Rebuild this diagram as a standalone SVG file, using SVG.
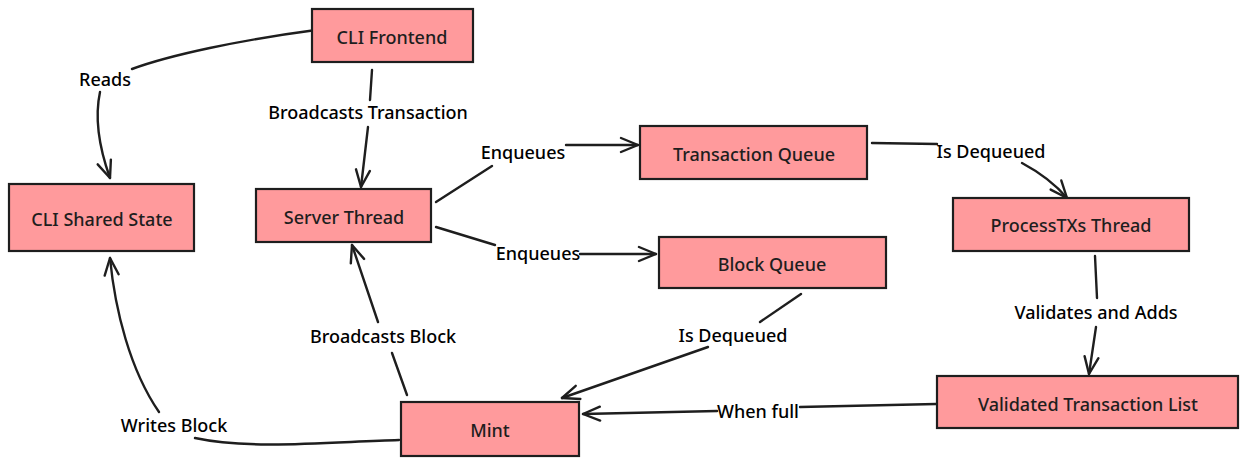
<svg xmlns="http://www.w3.org/2000/svg" width="1248" height="465" viewBox="0 0 1248 465">
<style>
.box{fill:#ff9a9c;stroke:#1e1e1e;stroke-width:2.2}
.t{font-family:"Noto Sans",sans-serif;font-size:18px;font-weight:500;fill:#1e1e1e;text-anchor:middle;dominant-baseline:central}
.l{font-family:"Noto Sans",sans-serif;font-size:18px;font-weight:500;fill:#000;text-anchor:middle;dominant-baseline:central}
.c{fill:none;stroke:#1e1e1e;stroke-width:2.4;stroke-linecap:round}
</style>
<defs>
<marker id="ah" markerUnits="userSpaceOnUse" markerWidth="40" markerHeight="40" refX="0" refY="0" viewBox="-20 -20 40 40" orient="auto" overflow="visible">
<path d="M -17 -7 L 0 0 L -17 7" fill="none" stroke="#1e1e1e" stroke-width="2.4" stroke-linecap="round" stroke-linejoin="round"/>
</marker>
</defs>
<rect width="1248" height="465" fill="#fff"/>
<g id="connectors">
<path class="c" d="M 316 30 C 240 40 170 55 132 69"/>
<path class="c" d="M 100 92 C 94 120 100 150 110 178" marker-end="url(#ah)"/>
<text class="l" x="105" y="79">Reads</text>
<path class="c" d="M 372 70 L 370 100"/>
<path class="c" d="M 368 127 L 361 187" marker-end="url(#ah)"/>
<text class="l" x="368" y="112">Broadcasts Transaction</text>
<path class="c" d="M 436 202 L 492 166"/>
<path class="c" d="M 566 145 L 638 145" marker-end="url(#ah)"/>
<text class="l" x="523" y="152">Enqueues</text>
<path class="c" d="M 436 227 L 495 245"/>
<path class="c" d="M 580 254 L 656 254" marker-end="url(#ah)"/>
<text class="l" x="538" y="253">Enqueues</text>
<path class="c" d="M 872 143 L 937 144"/>
<path class="c" d="M 1022 163 Q 1050 178 1067 198" marker-end="url(#ah)"/>
<text class="l" x="991" y="151">Is Dequeued</text>
<path class="c" d="M 1095 256 L 1097 298"/>
<path class="c" d="M 1096 327 L 1089 374" marker-end="url(#ah)"/>
<text class="l" x="1096" y="312">Validates and Adds</text>
<path class="c" d="M 936 404 L 800 407"/>
<path class="c" d="M 717 411 L 583 414" marker-end="url(#ah)"/>
<text class="l" x="758" y="411">When full</text>
<path class="c" d="M 801 294 L 760 322"/>
<path class="c" d="M 708 347 L 562 398" marker-end="url(#ah)"/>
<text class="l" x="733" y="335">Is Dequeued</text>
<path class="c" d="M 407 395 L 392 353"/>
<path class="c" d="M 378 322 L 352 245" marker-end="url(#ah)"/>
<text class="l" x="383" y="336">Broadcasts Block</text>
<path class="c" d="M 399 440 C 330 442 250 450 195 438"/>
<path class="c" d="M 159 412 C 130 370 115 310 110 258" marker-end="url(#ah)"/>
<text class="l" x="174" y="425">Writes Block</text>
</g>
<g id="cli-frontend"><rect class="box" x="312" y="9" width="161" height="53"/><text class="t" x="392" y="37">CLI Frontend</text></g>
<g id="cli-shared-state"><rect class="box" x="9" y="184" width="185" height="67"/><text class="t" x="102" y="219">CLI Shared State</text></g>
<g id="server-thread"><rect class="box" x="256" y="189" width="175" height="53"/><text class="t" x="344" y="217">Server Thread</text></g>
<g id="transaction-queue"><rect class="box" x="640" y="126" width="227" height="53"/><text class="t" x="754" y="154">Transaction Queue</text></g>
<g id="block-queue"><rect class="box" x="659" y="237" width="227" height="51"/><text class="t" x="772" y="264">Block Queue</text></g>
<g id="processtxs-thread"><rect class="box" x="953" y="198" width="236" height="53"/><text class="t" x="1071" y="225">ProcessTXs Thread</text></g>
<g id="validated-transaction-list"><rect class="box" x="937" y="376" width="301" height="52"/><text class="t" x="1088" y="404">Validated Transaction List</text></g>
<g id="mint"><rect class="box" x="401" y="402" width="178" height="54"/><text class="t" x="490" y="430">Mint</text></g>
</svg>
